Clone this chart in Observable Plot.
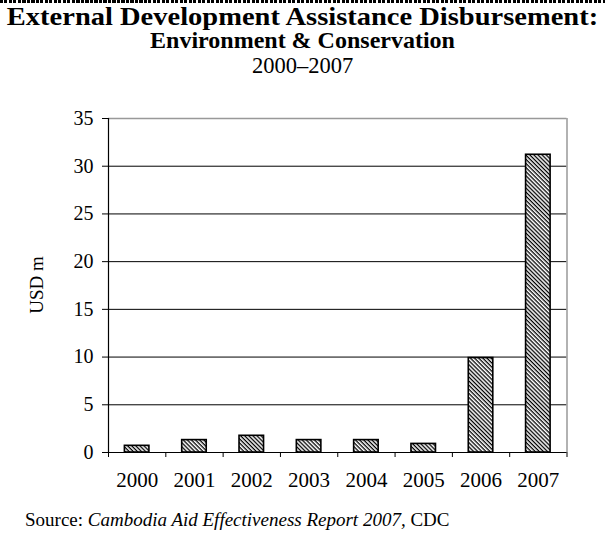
<!DOCTYPE html>
<html><head><meta charset="utf-8">
<script src="https://cdn.jsdelivr.net/npm/d3@7"></script>
<script src="https://cdn.jsdelivr.net/npm/@observablehq/plot@0.6"></script>
<style>
body{margin:0;background:#fff;font-family:"Liberation Serif","Times New Roman",serif;color:#000;}
#wrap{position:relative;width:605px;height:548px;overflow:hidden;background:#fff;}
#dots{position:absolute;left:0;top:0;width:605px;height:3px;background:repeating-linear-gradient(90deg,#000 0 3px,transparent 3px 4.5px);}
.t{position:absolute;left:0;width:605px;text-align:center;white-space:nowrap;font-family:"Liberation Serif","Times New Roman",serif;}
#t1{top:4.5px;font-weight:bold;font-size:25px;line-height:23px;transform:scaleX(1.14);transform-origin:302.5px 50%;}
#t2{top:30px;font-weight:bold;font-size:24px;line-height:21px;}
#t3{top:55px;font-size:22.5px;line-height:21px;}
#chart{position:absolute;left:0;top:100px;}
#ylab{position:absolute;left:37px;top:285px;transform:translate(-50%,-50%) rotate(-90deg);font-size:19px;white-space:nowrap;}
#src{position:absolute;left:25px;top:509px;font-size:19px;line-height:22px;white-space:nowrap;}
</style>
</head><body>
<div id="wrap">
  <div id="dots"></div>
  <div class="t" id="t1">External Development Assistance Disbursement:</div>
  <div class="t" id="t2">Environment &amp; Conservation</div>
  <div class="t" id="t3">2000–2007</div>
  <div id="chart"></div>
  <div id="ylab">USD m</div>
  <div id="src">Source: <i>Cambodia Aid Effectiveness Report 2007,</i> CDC</div>
</div>
<script>
const years = [2000, 2001, 2002, 2003, 2004, 2005, 2006, 2007];
const values = [0.7, 1.3, 1.75, 1.3, 1.3, 0.9, 9.9, 31.2];
const yTicks = [0, 5, 10, 15, 20, 25, 30, 35];

const data = years.map((year, i) => ({year, value: values[i]}));
const bounds = years.map(y => y - 0.5).concat([years[years.length - 1] + 0.5]);
const halfBar = 0.214;

const chart = Plot.plot({
  width: 605,
  height: 402,
  marginLeft: 108,
  marginRight: 38.5,
  marginTop: 18,
  marginBottom: 50,
  x: {type: "linear", domain: [bounds[0], bounds[bounds.length - 1]]},
  y: {domain: [0, 35]},
  style: {fontFamily: "'Liberation Serif','Times New Roman',serif", fontSize: "20px", color: "#000", background: "transparent", overflow: "visible"},
  marks: [
    Plot.ruleY(yTicks.slice(1, -1), {stroke: "#000", strokeWidth: 1, strokeOpacity: 1}),
    Plot.ruleY([35], {stroke: "#999", strokeWidth: 1.5}),
    Plot.ruleX([bounds[bounds.length - 1]], {y1: 0, y2: 35, stroke: "#999", strokeWidth: 1.5}),
    Plot.rectY(data, {x1: d => d.year - halfBar, x2: d => d.year + halfBar, y1: 0, y2: "value", fill: "url(#hatch)", stroke: "#000", strokeWidth: 1.6}),
    Plot.axisY({ticks: yTicks, tickSize: 6, tickPadding: 9, label: null, tickFormat: d => String(d), strokeOpacity: 1}),
    Plot.axisX({ticks: years, tickSize: 0, tickPadding: 20, label: null, tickFormat: d => String(d), fontSize: 21}),
    Plot.axisX({ticks: bounds, tickSize: 5, label: null, tickFormat: () => "", strokeOpacity: 1}),
    Plot.ruleX([bounds[0]], {y1: 0, y2: 35, stroke: "#000", strokeWidth: 1.2}),
    Plot.ruleY([0], {stroke: "#000", strokeWidth: 1.2})
  ]
});

const ns = "http://www.w3.org/2000/svg";
const defs = document.createElementNS(ns, "defs");
const pat = document.createElementNS(ns, "pattern");
pat.setAttribute("id", "hatch");
pat.setAttribute("patternUnits", "userSpaceOnUse");
pat.setAttribute("width", "2.9");
pat.setAttribute("height", "2.9");
pat.setAttribute("patternTransform", "rotate(45)");
const bg = document.createElementNS(ns, "rect");
bg.setAttribute("width", "2.9"); bg.setAttribute("height", "2.9"); bg.setAttribute("fill", "#fff");
const st = document.createElementNS(ns, "rect");
st.setAttribute("width", "2.9"); st.setAttribute("height", "1.3"); st.setAttribute("fill", "#000");
pat.appendChild(bg); pat.appendChild(st); defs.appendChild(pat);
chart.insertBefore(defs, chart.firstChild);
document.getElementById("chart").appendChild(chart);
</script>
</body></html>
